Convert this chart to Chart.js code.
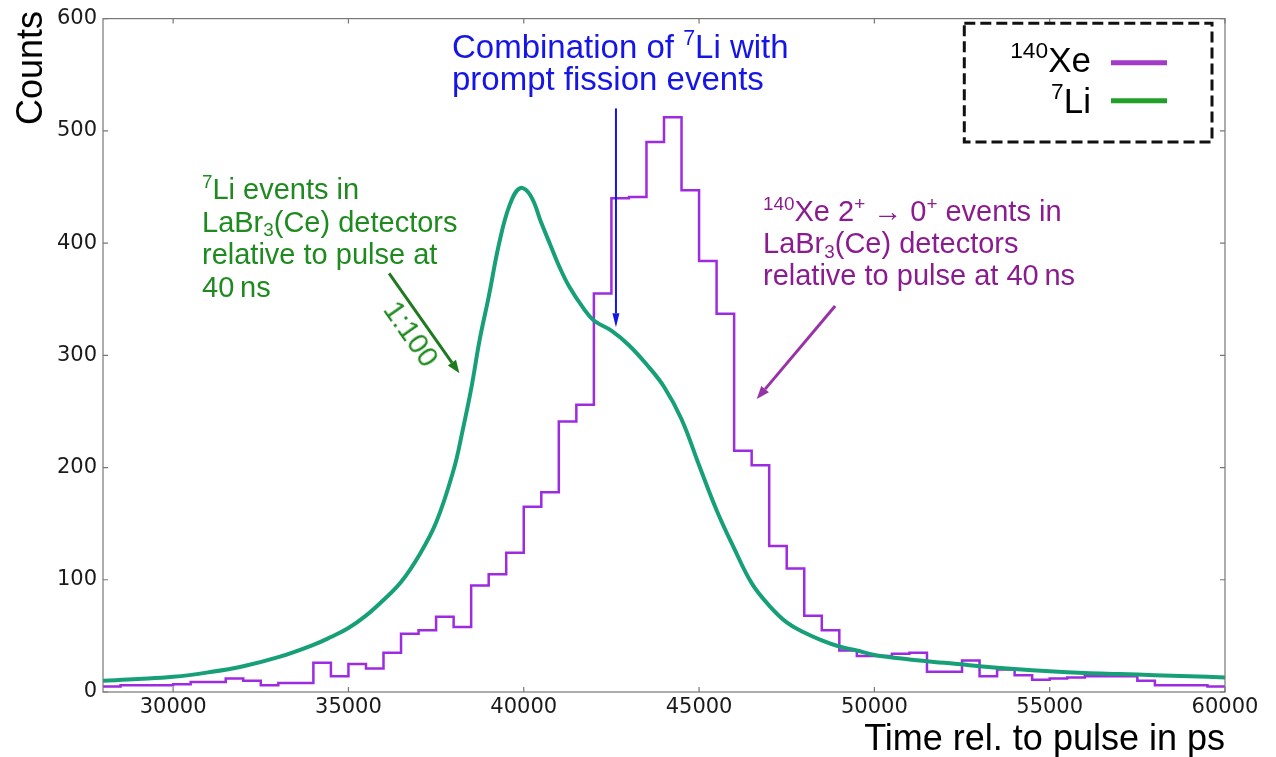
<!DOCTYPE html>
<html><head><meta charset="utf-8">
<script src="https://cdn.jsdelivr.net/npm/chart.js@4"></script>
<style>
html,body{margin:0;padding:0;background:#fff;}
#wrap{position:relative;width:1276px;height:757px;overflow:hidden;background:#fff;}
canvas{position:absolute;left:0;top:0;}
.t{position:absolute;font-family:"Liberation Sans",Arial,sans-serif;white-space:nowrap;}
.sup{font-size:0.65em;position:relative;top:-0.6em;line-height:0;}
.sub{font-size:0.65em;position:relative;top:0.25em;line-height:0;}
</style></head>
<body><div id="wrap"><canvas id="c" width="1276" height="757" style="width:1276px;height:757px"></canvas>

<div class="t" style="left:452px;top:31px;font-size:33px;line-height:32px;color:#1515e6;">Combination of <span class="sup">7</span>Li with<br>prompt fission events</div>

<div class="t" style="left:202px;top:173px;font-size:29px;line-height:32.5px;color:#1f8a1f;"><span class="sup">7</span>Li events in<br>LaBr<span class="sub">3</span>(Ce) detectors<br>relative to pulse at<br>40&#8201;ns</div>

<div class="t" style="left:411px;top:334px;font-size:29px;line-height:29px;color:#1f8a1f;transform:translate(-50%,-50%) rotate(55deg);">1:100</div>

<div class="t" style="left:763px;top:195px;font-size:29px;line-height:32px;color:#8b1c8f;"><span class="sup">140</span>Xe 2<span class="sup">+</span> &#8594; 0<span class="sup">+</span> events in<br>LaBr<span class="sub">3</span>(Ce) detectors<br>relative to pulse at 40&#8201;ns</div>

<div class="t" style="right:185px;top:42px;font-size:35px;line-height:35px;color:#000;"><span class="sup">140</span>Xe</div>
<div class="t" style="right:185px;top:83px;font-size:35px;line-height:35px;color:#000;"><span class="sup">7</span>Li</div>

<div class="t" style="left:30px;top:68px;font-size:36px;line-height:36px;color:#000;transform:translate(-50%,-50%) rotate(-90deg);">Counts</div>
<div class="t" style="right:51px;top:720px;font-size:36px;line-height:36px;color:#000;">Time rel. to pulse in ps</div>
</div>
<script>
// ---- data ----
const liTimes = [28000,29000,30000,31000,32000,33000,34000,34500,35000,35500,36000,36500,37000,37500,38000,38250,38500,38750,39000,39300,39600,39900,40200,40500,40750,41000,41300,41700,42000,42500,43000,43500,44000,44500,45000,45500,46000,46500,47000,47500,48000,48500,49000,49500,50000,51000,52000,53000,54000,55000,56000,57000,58000,59000,60000];
const liCounts = [10,11.5,13.5,17.5,23,31,42,49,57,68,82,98,121,151,198,232,270,315,352,400,434,449,442,418,399,380,361,342,331,322,309,292,272,243,202,162,128,97,77,62,53,46,40.5,37,33,29,26,23,20.5,18.5,17,16,15,14,13];

const xeBinStarts = [28000,28500,29000,29500,30000,30500,31000,31500,32000,32500,33000,33500,34000,34500,35000,35500,36000,36500,37000,37500,38000,38500,39000,39500,40000,40500,41000,41500,42000,42500,43000,43500,44000,44500,45000,45500,46000,46500,47000,47500,48000,48500,49000,49500,50000,50500,51000,51500,52000,52500,53000,53500,54000,54500,55000,55500,56000,56500,57000,57500,58000,58500,59000,59500];
const xeCounts = [5,6,6,6,7,9,9,12,10,6,8,8,26,14,25,21,35,52,55,67,58,95,105,124,165,178,241,256,355,440,441,490,512,447,384,337,215,202,130,110,68,55,37,32,32,34,35,18,18,28,14,20,15,11,12,13,14,14,14,10,6,6,6,5];
const xeBinWidth = 500;

const xTicks = [30000,35000,40000,45000,50000,55000,60000];
const yTicks = [0,100,200,300,400,500,600];
const xMin = 28000, xMax = 60000, yMin = 0, yMax = 600;

// annotation arrows in data coordinates [x0,y0,x1,y1]
const blueArrow = [42630,520,42630,325];
const greenArrow = [36160,373,38165,284];
const purpleArrow = [48880,344,46645,261];

// ---- build datasets ----
const liData = liTimes.map((t,i)=>({x:t,y:liCounts[i]}));
const xeData = xeBinStarts.map((t,i)=>({x:t,y:xeCounts[i]}));
xeData.push({x: xeBinStarts[xeBinStarts.length-1] + xeBinWidth, y: xeCounts[xeCounts.length-1]});

function arrow(ctx, x0, y0, x1, y1, color, lw, hl, hw){
  const a = Math.atan2(y1-y0, x1-x0);
  const bx = x1 - hl*Math.cos(a), by = y1 - hl*Math.sin(a);
  ctx.save();
  ctx.strokeStyle = color; ctx.fillStyle = color; ctx.lineWidth = lw; ctx.lineCap='butt';
  ctx.beginPath(); ctx.moveTo(x0,y0); ctx.lineTo(bx,by); ctx.stroke();
  ctx.beginPath();
  ctx.moveTo(x1,y1);
  ctx.lineTo(bx + hw/2*Math.sin(a), by - hw/2*Math.cos(a));
  ctx.lineTo(bx - hw/2*Math.sin(a), by + hw/2*Math.cos(a));
  ctx.closePath(); ctx.fill();
  ctx.restore();
}

const framePlugin = {
  id:'frame',
  afterDraw(chart){
    const {ctx, chartArea:a, scales:{x,y}} = chart;
    ctx.save();
    ctx.strokeStyle = '#777'; ctx.lineWidth = 1.2;
    ctx.strokeRect(a.left, a.top, a.right-a.left, a.bottom-a.top);
    ctx.beginPath();
    const tl = 5;
    xTicks.forEach(v=>{ const px = x.getPixelForValue(v);
      ctx.moveTo(px,a.bottom); ctx.lineTo(px,a.bottom-tl);
      ctx.moveTo(px,a.top); ctx.lineTo(px,a.top+tl); });
    yTicks.forEach(v=>{ const py = y.getPixelForValue(v);
      ctx.moveTo(a.left,py); ctx.lineTo(a.left+tl,py);
      ctx.moveTo(a.right,py); ctx.lineTo(a.right-tl,py); });
    ctx.stroke();
    // arrows
    const P = (arr)=>[x.getPixelForValue(arr[0]), y.getPixelForValue(arr[1]), x.getPixelForValue(arr[2]), y.getPixelForValue(arr[3])];
    let b = P(blueArrow); arrow(ctx, b[0],b[1],b[2],b[3], '#1515e6', 2, 14, 7);
    let g = P(greenArrow); arrow(ctx, g[0],g[1],g[2],g[3], '#1f7a1f', 3, 13, 10);
    let p = P(purpleArrow); arrow(ctx, p[0],p[1],p[2],p[3], '#9932a8', 3, 13, 10);
    // legend box
    ctx.setLineDash([11,5]);
    ctx.strokeStyle = '#111'; ctx.lineWidth = 3;
    ctx.strokeRect(964.3, 23.3, 247.7, 118.8);
    ctx.setLineDash([]);
    ctx.lineWidth = 5;
    ctx.strokeStyle = '#a23bc8';
    ctx.beginPath(); ctx.moveTo(1111,62.7); ctx.lineTo(1167,62.7); ctx.stroke();
    ctx.strokeStyle = '#22a02a';
    ctx.beginPath(); ctx.moveTo(1111,100.7); ctx.lineTo(1167,100.7); ctx.stroke();
    ctx.restore();
  }
};

new Chart(document.getElementById('c'), {
  type:'line',
  data:{ datasets:[
    { label:'7Li', data: liData, borderColor:'#17a078', borderWidth:4, pointRadius:0, tension:0.4, order:0 },
    { label:'140Xe', data: xeData, borderColor:'#9d2be0', borderWidth:2.5, pointRadius:0, stepped:'before', order:1 }
  ]},
  options:{
    responsive:false, animation:false,
    layout:{ padding:{ top:17, right:51, left:0, bottom:0 } },
    plugins:{ legend:{display:false}, tooltip:{enabled:false} },
    scales:{
      x:{ type:'linear', min:xMin, max:xMax,
        afterBuildTicks: s => { s.ticks = xTicks.map(v=>({value:v})); },
        afterFit: s => { s.height = 65; },
        grid:{ display:false, drawTicks:false }, border:{display:false},
        ticks:{ padding:3, color:'#1a1a1a', font:{ family:'DejaVu Sans', size:21 }, maxRotation:0, autoSkip:false, callback: v => String(v) } },
      y:{ type:'linear', min:yMin, max:yMax,
        afterBuildTicks: s => { s.ticks = yTicks.map(v=>({value:v})); },
        afterFit: s => { s.width = 103; },
        grid:{ display:false, drawTicks:false }, border:{display:false},
        ticks:{ padding:6, color:'#1a1a1a', font:{ family:'DejaVu Sans', size:21 }, callback: v => String(v) } }
    }
  },
  plugins:[framePlugin]
});
</script>
</body></html>
